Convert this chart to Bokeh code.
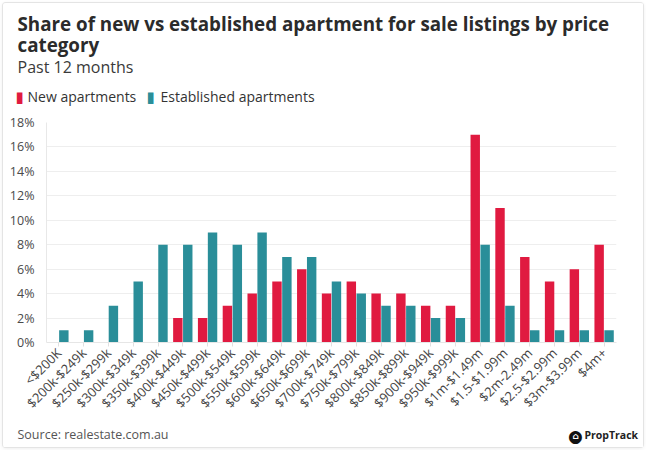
import math
from bokeh.plotting import figure
from bokeh.layouts import column
from bokeh.models import (ColumnDataSource, FactorRange, Range1d, FixedTicker, Label)
from bokeh.transform import dodge
from bokeh.embed import file_html
from bokeh.resources import INLINE

categories = ["<$200K", "$200k-$249k", "$250k-$299k", "$300k-$349k", "$350k-$399k",
              "$400k-$449k", "$450k-$499k", "$500k-$549k", "$550k-$599k", "$600k-$649k",
              "$650k-$699k", "$700k-$749k", "$750k-$799k", "$800k-$849k", "$850k-$899k",
              "$900k-$949k", "$950k-$999k", "$1m-$1.49m", "$1.5-$1.99m", "$2m-2.49m",
              "$2.5-$2.99m", "$3m-$3.99m", "$4m+"]
new_share = [0, 0, 0, 0, 0, 2, 2, 3, 4, 5, 6, 4, 5, 4, 4, 3, 3, 17, 11, 7, 5, 6, 8]
est_share = [1, 1, 3, 5, 8, 8, 9, 8, 9, 7, 7, 5, 4, 3, 3, 2, 2, 8, 3, 1, 1, 1, 1]
y_ticks = [0, 2, 4, 6, 8, 10, 12, 14, 16, 18]
y_labels = {t: f"{t}%" for t in y_ticks}

RED = "#E01A40"
TEAL = "#2A8E99"
FONT = "Open Sans"
W = 640
HEAD_H = 109
MAIN_H = 309
FOOT_H = 26


def no_align(f):
    if "frame_align" in f.properties():
        f.frame_align = False


def blank(h):
    f = figure(width=W, height=h, x_range=Range1d(0, 1), y_range=Range1d(0, 1),
               output_backend="svg", toolbar_location=None, title_location=None,
               x_axis_location=None, y_axis_location=None,
               min_border=0, min_border_left=0, min_border_right=0,
               min_border_top=0, min_border_bottom=0)
    f.grid.visible = False
    f.outline_line_color = None
    f.background_fill_color = "white"
    f.border_fill_color = "white"
    no_align(f)
    return f


def lab(f, text, x, y, size, style="normal", color="#333333", align="left", font=FONT):
    f.add_layout(Label(text=text, x=x, y=y, x_units="screen", y_units="screen",
                       text_font=font, text_font_size=size, text_font_style=style,
                       text_color=color, text_baseline="middle", text_align=align))


# ---------- header ----------
head = blank(HEAD_H)
lab(head, "Share of new vs established apartment for sale listings by price", 14, 89,
    "18.8px", "bold", "#2b2b2b")
lab(head, "category", 14, 68, "18.8px", "bold", "#2b2b2b")
lab(head, "Past 12 months", 14, 46, "16px", "normal", "#3a3a3a")
# legend row
lab(head, "▮", 12, 16, "15px", "normal", RED, font="DejaVu Sans")
lab(head, "New apartments", 24, 16, "14px", "normal", "#333333")
lab(head, "▮", 143, 16, "15px", "normal", TEAL, font="DejaVu Sans")
lab(head, "Established apartments", 157, 16, "14px", "normal", "#333333")

# ---------- main chart ----------
src = ColumnDataSource(dict(cat=categories, new=new_share, est=est_share))
p = figure(width=W, height=MAIN_H, x_range=FactorRange(*categories),
           y_range=Range1d(0, 18), output_backend="svg", toolbar_location=None,
           title_location=None,
           min_border_left=43, min_border_right=27, min_border_top=10,
           min_border_bottom=79)
p.background_fill_color = "white"
p.border_fill_color = "white"
p.outline_line_color = None
no_align(p)

p.vbar(x=dodge("cat", -0.2, range=p.x_range), top="new", width=0.38,
       source=src, fill_color=RED, line_color=None)
p.vbar(x=dodge("cat", 0.2, range=p.x_range), top="est", width=0.38,
       source=src, fill_color=TEAL, line_color=None)

p.xgrid.grid_line_color = None
p.ygrid.grid_line_color = "#eeeeee"
p.ygrid.ticker = FixedTicker(ticks=y_ticks)

p.yaxis.ticker = FixedTicker(ticks=y_ticks)
p.yaxis.major_label_overrides = y_labels
p.yaxis.axis_line_color = "#e8e8e8"
p.yaxis.major_tick_line_color = None
p.yaxis.minor_tick_line_color = None
p.yaxis.major_label_text_font = FONT
p.yaxis.major_label_text_font_size = "12.5px"
p.yaxis.major_label_text_color = "#4a4a4a"
p.yaxis.major_label_standoff = 6

p.xaxis.axis_line_color = "#e6e6e6"
p.xaxis.major_tick_line_color = "#e0e0e0"
p.xaxis.major_tick_out = 4
p.xaxis.major_tick_in = 0
p.xaxis.major_label_orientation = math.pi / 4
p.xaxis.major_label_text_font = FONT
p.xaxis.major_label_text_font_size = "13px"
p.xaxis.major_label_text_color = "#444444"
p.xaxis.major_label_standoff = 4

# ---------- footer ----------
foot = blank(FOOT_H)
lab(foot, "Source: realestate.com.au", 14, 13, "12.5px", "normal", "#555555")
lab(foot, "●", 572, 12, "17px", "normal", "#111111", align="center", font="DejaVu Sans")
lab(foot, "⌂", 572, 12, "9px", "bold", "white", align="center", font="DejaVu Sans")
lab(foot, "PropTrack", 581, 13, "10.5px", "bold", "#222222")

layout = column(head, p, foot, spacing=0)
layout.styles = {"margin-left": "3px", "margin-top": "3px",
                 "box-shadow": "0 0 0 1px #e4e4e4, 0 1px 4px rgba(0,0,0,0.10)",
                 "border-radius": "3px", "background": "white"}

open("out.html", "w").write(file_html(layout, INLINE))
